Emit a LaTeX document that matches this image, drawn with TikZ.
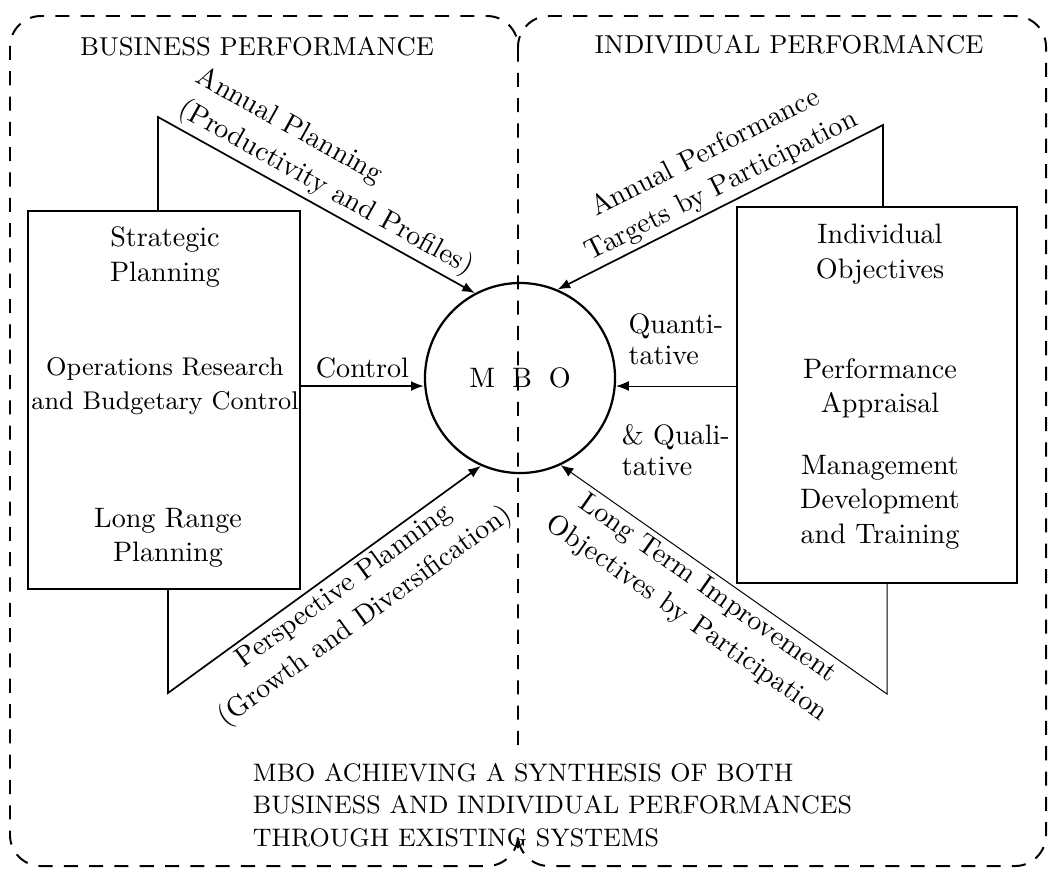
\documentclass[tikz,border=0pt]{standalone}
\usepackage{tikz}
\usetikzlibrary{positioning,arrows.meta,calc}

\begin{document}
\begin{tikzpicture}[x=0.0125cm,y=-0.0125cm,
  panel/.style={dash pattern=on 5pt off 4pt,line width=0.7pt,rounded corners=11pt},
  areabox/.style={draw,line width=0.7pt},
  flow/.style={line width=0.6pt,-{Latex[length=4.5pt,width=3.5pt]}},
  faint/.style={flow,line width=0.35pt},
  txt/.style={align=center,font=\fontsize{10}{12.2}\selectfont},
  slant/.style={align=center,inner sep=1.5pt,font=\fontsize{10}{13}\selectfont},
  caps/.style={font=\fontsize{9}{11.5}\selectfont}]
\useasboundingbox (0,0) rectangle (1055,878);
% the two dashed halves, the shared side stops above the caption
\draw[panel] (518,745) |- (10,16) |- (518,866) -- (518,848);
\draw[panel] (518,50) |- (1046,16) |- (518,866) -- (518,848);
\node[caps,font=\fontsize{9.2}{11}\selectfont] (bushead) at (257,47) {BUSINESS PERFORMANCE};
\node[caps,font=\fontsize{9.2}{11}\selectfont] (indhead) at (789,45) {INDIVIDUAL PERFORMANCE};
% centre
\node[circle,draw,line width=0.8pt,minimum size=2.375cm,inner sep=0pt] (mbo) at (520,378) {M\hskip6pt B\hskip6pt O};
\coordinate (midrow) at (0,386);
% business side
\node[areabox,minimum width=3.4cm,minimum height=4.725cm] (lbox) at (164,400) {};
\node[txt] (strat) at (165,257) {Strategic\\Planning};
\node[txt,font=\fontsize{9.1}{12.2}\selectfont] (opres) at (165,386) {Operations Research\\and Budgetary Control};
\node[txt] (lrange) at (168,538) {Long Range\\Planning};
% individual side
\node[areabox,minimum width=3.51cm,minimum height=4.7cm] (rbox) at (877,395) {};
\node[txt] (indobj) at (880,254) {Individual\\Objectives};
\node[txt] (perfap) at (880,388) {Performance\\Appraisal};
\node[txt] (mgmt) at (880,502) {Management\\Development\\and Training};
% bends
\coordinate (ulbend) at (158,117);
\coordinate (llbend) at (168,693);
\coordinate (urbend) at (883,125);
\coordinate (lrbend) at (887,694);
\draw[flow] (lbox.north -| ulbend) -- (ulbend) -- (mbo.118)
  node[slant,pos=0.5,above,sloped,align=left] {Annual Planning\\(Productivity and Profiles)};
\draw[flow] (lbox.south -| llbend) -- (llbend) -- (mbo.246)
  node[slant,pos=0.53,below,sloped] {Perspective Planning\\(Growth and Diversification)};
\draw[flow] (rbox.north -| urbend) -- (urbend) -- (mbo.67)
  node[slant,pos=0.47,above,sloped] {Annual Performance\\Targets by Participation};
\draw[faint] (rbox.south -| lrbend) -- (lrbend) -- (mbo.295)
  node[slant,pos=0.52,below,sloped] {Long Term Improvement\\Objectives by Participation};
\draw[flow] (lbox.east |- midrow) -- (mbo.west |- midrow)
  node[txt,midway,above=-1pt] {Control};
\draw[faint] (rbox.west |- midrow) -- (mbo.east |- midrow)
  node[txt,pos=0.5,above=4pt,align=left,font=\fontsize{10}{11}\selectfont] {Quanti-\\tative}
  node[txt,pos=0.5,below=10pt,align=left,font=\fontsize{10}{11}\selectfont] {\& Quali-\\tative};
% caption
\node[caps,align=left,anchor=west] (synth) at (243,805) {MBO ACHIEVING A SYNTHESIS OF BOTH\\BUSINESS AND INDIVIDUAL PERFORMANCES\\THROUGH EXISTING SYSTEMS};
\end{tikzpicture}
\end{document}
